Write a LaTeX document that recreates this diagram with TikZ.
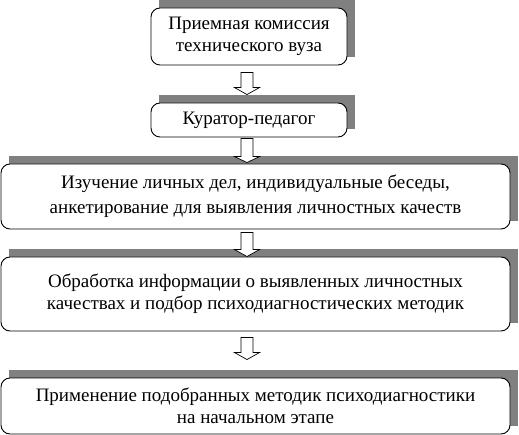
\documentclass[tikz,border=0pt]{standalone}
\usepackage{fontspec}
\setmainfont{Liberation Serif}
\newfontfamily\boxfont{Liberation Serif}
\usetikzlibrary{calc,backgrounds}
\tikzset{
  stagebox/.style={draw=black, line width=0.9pt, fill=white, rounded corners=9pt,
    align=center, font=\boxfont\fontsize{19}{22}\selectfont, inner sep=0pt, anchor=center},
  boxshadow/.style={fill=black!50},
  blockarrow/.style={draw=black, line width=0.7pt, fill=white},
}
\newcommand\shadowof[1]{%
  \begin{pgfonlayer}{background}
    \fill[boxshadow] ($(#1.south west)+(8,-8)$) rectangle ($(#1.north east)+(8,-8)$);
  \end{pgfonlayer}}
\newcommand\blockarr[3]{% start coord, tip coord, head base y offset from tip
  \path let \p1=(#1), \p2=(#2) in
    [blockarrow] (\x1-6pt,\y1) -- (\x1+6pt,\y1) -- (\x1+6pt,\y2+#3pt) -- (\x1+12.5pt,\y2+#3pt)
    -- (\x2,\y2) -- (\x1-12.5pt,\y2+#3pt) -- (\x1-6pt,\y2+#3pt) -- cycle;}
\begin{document}
\begin{tikzpicture}[x=1pt,y=-1pt]
\useasboundingbox (0,0) rectangle (519,435);
\node[stagebox, minimum width=196pt, minimum height=57pt] (b1) at (249,36.5)
  {Приемная комиссия\\технического вуза};
\node[stagebox, minimum width=196pt, minimum height=34pt] (b2) at (249,120)
  {Куратор-педагог};
\node[stagebox, minimum width=509pt, minimum height=65pt, font=\boxfont\fontsize{19}{25}\selectfont] (b3) at (255.5,196.5)
  {Изучение личных дел, индивидуальные беседы,\\анкетирование для выявления личностных качеств};
\node[stagebox, minimum width=509pt, minimum height=74pt] (b4) at (255.5,294)
  {Обработка информации о выявленных личностных\\качествах и подбор психодиагностических методик};
\node[stagebox, minimum width=509pt, minimum height=56pt] (b5) at (255.5,406)
  {Применение подобранных методик психодиагностики\\на начальном этапе};
\shadowof{b1}\shadowof{b2}\shadowof{b3}\shadowof{b4}\shadowof{b5}
\coordinate (a1s) at ($(b1.south)+(-2,7)$);
\coordinate (a1e) at ($(b2.north)+(-2,-8)$);
\coordinate (a2s) at ($(b2.south)+(-2,1)$);
\coordinate (a2e) at ($(b3.north)+(-8.5,-1)$);
\coordinate (a3s) at ($(b3.south)+(-8.5,3)$);
\coordinate (a3e) at ($(b4.north)+(-8.5,0)$);
\coordinate (a4s) at ($(b4.south)+(-8.5,6)$);
\coordinate (a4e) at ($(b5.north)+(-8.5,-18)$);
\blockarr{a1s}{a1e}{7}
\blockarr{a2s}{a2e}{6}
\blockarr{a3s}{a3e}{7}
\blockarr{a4s}{a4e}{7}
\end{tikzpicture}
\end{document}
